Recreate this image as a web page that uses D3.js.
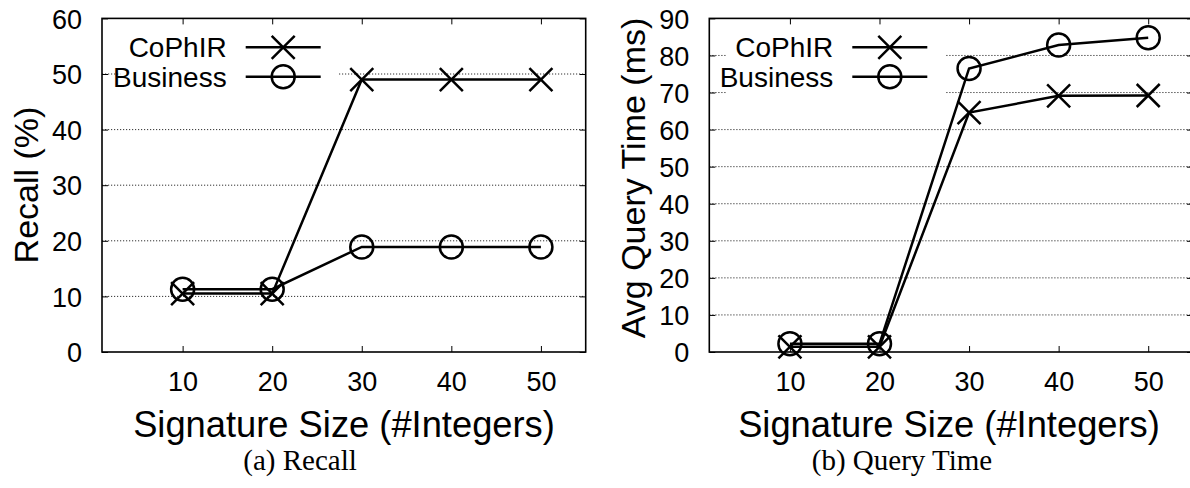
<!DOCTYPE html>
<html>
<head>
<meta charset="utf-8">
<script src="https://cdn.jsdelivr.net/npm/d3@7"></script>
<style>
  html, body { margin: 0; padding: 0; background: #fff; }
  svg { display: block; }
</style>
</head>
<body>
<svg id="chart" width="1190" height="488"></svg>
<script>
// Signature sizes on the x axis
const sizes = [10, 20, 30, 40, 50];
const xTicks = [10, 20, 30, 40, 50];

// (a) Recall, in percent
const recallCoPhIR   = [10.5, 10.5, 49.0, 49.0, 49.0];
const recallBusiness = [11.3, 11.3, 18.9, 18.9, 18.9];
const recallTicks    = [0, 10, 20, 30, 40, 50, 60];

// (b) Average query time, in ms
const timeCoPhIR   = [1.4, 1.4, 64.6, 69.1, 69.2];
const timeBusiness = [2.2, 2.2, 76.5, 82.8, 84.8];
const timeTicks    = [0, 10, 20, 30, 40, 50, 60, 70, 80, 90];

const seriesNames = ["CoPhIR", "Business"];

const svg = d3.select("#chart");
svg.append("rect").attr("width", 1190).attr("height", 488).attr("fill", "#fff");

const SANS = "'Liberation Sans', Arial, Helvetica, sans-serif";
const SERIF = "'Liberation Serif', 'Times New Roman', serif";

function drawPanel(cfg) {
  const g = svg.append("g");
  const x = d3.scaleLinear().domain([1, 55]).range([cfg.left, cfg.left + 483.7]);
  const y = d3.scaleLinear().domain([0, cfg.yMax]).range([352, 18.4]);
  const x0 = x.range()[0], x1 = x.range()[1];

  // dotted horizontal grid
  g.append("g").selectAll("line")
    .data(cfg.yTicks.filter(v => v > 0 && v < cfg.yMax))
    .join("line")
    .attr("x1", x0).attr("x2", x1)
    .attr("y1", d => y(d)).attr("y2", d => y(d))
    .attr("stroke", "#333").attr("stroke-width", 1)
    .attr("stroke-dasharray", "1.2,1.8");

  // opaque key box
  const keyX = cfg.keyTextEnd;
  g.append("rect")
    .attr("x", keyX - 106.5).attr("y", 31)
    .attr("width", 218.5).attr("height", 65)
    .attr("fill", "#fff");

  // y axis ticks (left and mirrored right)
  const yAxisL = d3.axisLeft(y).tickValues(cfg.yTicks).tickSize(-6).tickPadding(20)
    .tickFormat(d3.format("d"));
  const ga = g.append("g").attr("transform", `translate(${x0},0)`).call(yAxisL);
  ga.select(".domain").remove();
  ga.selectAll("line").attr("stroke", "#000").attr("stroke-width", 1);
  ga.selectAll("text").attr("font-family", SANS).attr("font-size", 27).attr("fill", "#000")
    .attr("dy", "0.36em");

  const yAxisR = d3.axisRight(y).tickValues(cfg.yTicks).tickSize(-6).tickFormat("");
  const gr = g.append("g").attr("transform", `translate(${x1},0)`).call(yAxisR);
  gr.select(".domain").remove();
  gr.selectAll("line").attr("stroke", "#000").attr("stroke-width", 1);

  // x axis ticks (bottom and mirrored top)
  const xAxisB = d3.axisBottom(x).tickValues(xTicks).tickSize(-6).tickPadding(20)
    .tickFormat(d3.format("d"));
  const gb = g.append("g").attr("transform", "translate(0,352)").call(xAxisB);
  gb.select(".domain").remove();
  gb.selectAll("line").attr("stroke", "#000").attr("stroke-width", 1);
  gb.selectAll("text").attr("font-family", SANS).attr("font-size", 27).attr("fill", "#000")
    .attr("dy", "0.71em");

  const xAxisT = d3.axisTop(x).tickValues(xTicks).tickSize(-6).tickFormat("");
  const gt = g.append("g").attr("transform", "translate(0,18.4)").call(xAxisT);
  gt.select(".domain").remove();
  gt.selectAll("line").attr("stroke", "#000").attr("stroke-width", 1);

  // series
  const line = d3.line().x((d, i) => x(sizes[i])).y(d => y(d));
  const series = [cfg.cophir, cfg.business];
  series.forEach((vals, si) => {
    g.append("path").datum(vals)
      .attr("d", line).attr("fill", "none")
      .attr("stroke", "#000").attr("stroke-width", 2.5)
      .attr("stroke-linejoin", "miter");
    const pts = g.append("g").selectAll("g").data(vals).join("g")
      .attr("transform", (d, i) => `translate(${x(sizes[i])},${y(d)})`);
    drawMarker(pts, si);
  });

  // key entries
  const rows = [47.3, 76.7];
  seriesNames.forEach((name, si) => {
    g.append("text").attr("x", keyX).attr("y", rows[si]).attr("dy", "0.36em")
      .attr("text-anchor", "end").attr("font-family", SANS).attr("font-size", 28)
      .attr("fill", "#000").text(name);
    g.append("line").attr("x1", keyX + 19).attr("x2", keyX + 94)
      .attr("y1", rows[si]).attr("y2", rows[si])
      .attr("stroke", "#000").attr("stroke-width", 2.5);
    const m = g.append("g").attr("transform", `translate(${keyX + 56.5},${rows[si]})`);
    drawMarker(m, si);
  });

  // frame
  g.append("rect").attr("x", x0).attr("y", 18.4)
    .attr("width", x1 - x0).attr("height", 352 - 18.4)
    .attr("fill", "none").attr("stroke", "#000").attr("stroke-width", 1.6);

  // axis titles
  g.append("text")
    .attr("transform", `translate(${cfg.yLabelX},${cfg.yLabelY}) rotate(-90)`)
    .attr("text-anchor", "middle").attr("font-family", SANS).attr("font-size", 34)
    .attr("fill", "#000").text(cfg.yLabel);
  g.append("text").attr("x", cfg.xLabelX).attr("y", 437)
    .attr("text-anchor", "middle").attr("font-family", SANS).attr("font-size", 36.3)
    .attr("fill", "#000").text("Signature Size (#Integers)");

  // sub-caption
  g.append("text").attr("x", cfg.captionX).attr("y", 470)
    .attr("text-anchor", "middle").attr("font-family", SERIF).attr("font-size", 29)
    .attr("fill", "#000").text(cfg.caption);
}

function drawMarker(sel, si) {
  const r = 11.5;
  if (si === 0) {
    sel.append("path")
      .attr("d", `M${-r},${-r}L${r},${r}M${-r},${r}L${r},${-r}`)
      .attr("stroke", "#000").attr("stroke-width", 2.5).attr("fill", "none");
  } else {
    sel.append("circle").attr("r", r)
      .attr("stroke", "#000").attr("stroke-width", 2.5).attr("fill", "none");
  }
}

drawPanel({
  left: 102, yMax: 60, yTicks: recallTicks,
  cophir: recallCoPhIR, business: recallBusiness,
  keyTextEnd: 226.7,
  yLabel: "Recall (%)", yLabelX: 38, yLabelY: 185,
  xLabelX: 344, caption: "(a) Recall", captionX: 300
});

drawPanel({
  left: 709.3, yMax: 90, yTicks: timeTicks,
  cophir: timeCoPhIR, business: timeBusiness,
  keyTextEnd: 833.3,
  yLabel: "Avg Query Time (ms)", yLabelX: 645, yLabelY: 178,
  xLabelX: 949, caption: "(b) Query Time", captionX: 902
});
</script>
</body>
</html>
